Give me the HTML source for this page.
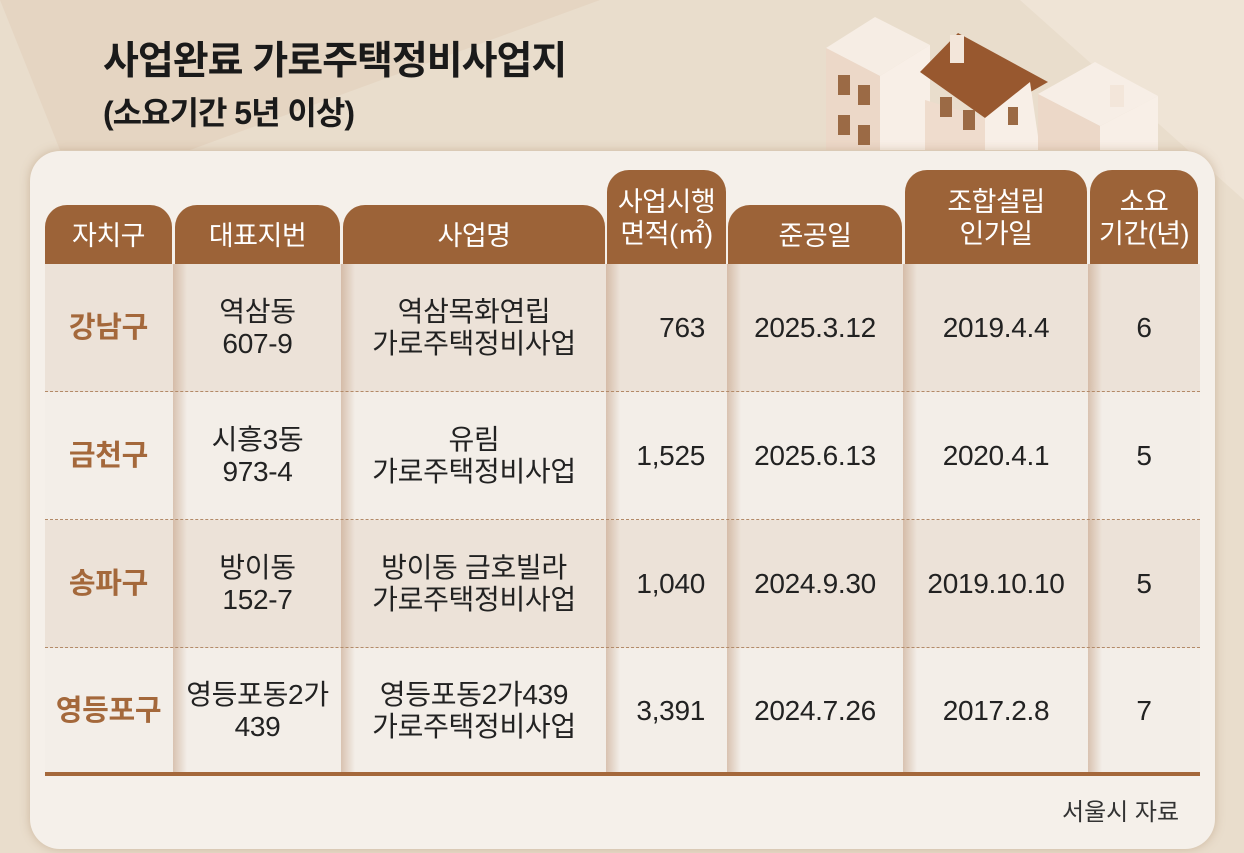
<!DOCTYPE html>
<html><head><meta charset="utf-8"><style>
*{margin:0;padding:0;box-sizing:border-box}
body{width:1244px;height:853px;overflow:hidden;background:#e6d9c7;font-family:"Liberation Sans","Noto Sans CJK KR",sans-serif;position:relative}
.bgpoly{position:absolute;left:0;top:0}
.title{position:absolute;left:103px;top:30px;font-size:39px;font-weight:bold;color:#1a1a1a;letter-spacing:-1px}
.sub{position:absolute;left:103px;top:88px;font-size:32px;font-weight:bold;color:#1a1a1a;letter-spacing:-1px}
.card{position:absolute;left:30px;top:151px;width:1185px;height:698px;background:#f5f0ea;border-radius:30px;box-shadow:0 0 10px rgba(150,110,70,.35)}
.h{position:absolute;background:#9c6338;color:#fff;border-radius:22px 22px 0 0;text-align:center;font-size:27px;line-height:32px;display:flex;align-items:center;justify-content:center;flex-direction:column;padding-top:2px;letter-spacing:-0.5px}
.c{position:absolute;display:flex;align-items:center;justify-content:center;text-align:center;font-size:28px;line-height:32px;color:#222;letter-spacing:-0.3px}
.d{color:#a4683b;font-weight:bold;font-size:29px}
.row{position:absolute;left:45px;width:1155px}
.dash{position:absolute;left:45px;width:1155px;border-top:1.5px dashed #b38a68}
.sep{position:absolute;top:264px;height:509px;width:14px;background:linear-gradient(90deg,rgba(190,150,120,.5),rgba(190,150,120,0))}
</style></head><body>
<svg class="bgpoly" width="1244" height="853">
<polygon points="0,0 1244,0 1244,853 0,853" fill="#e9ddcc"/>
<polygon points="0,0 600,0 190,150 60,150" fill="#e2d2bd" opacity=".7"/>
<polygon points="1020,0 1244,0 1244,200" fill="#efe4d6"/>
<polygon points="826,48 875,17 930,45 880,76" fill="#f6ede4"/>
<polygon points="826,48 880,76 880,150 826,150" fill="#ecd8c8"/>
<polygon points="880,76 930,45 930,150 880,150" fill="#f8efe7"/>
<polygon points="920,72 958,33 1048,82 985,118" fill="#98582f"/>
<polygon points="925,100 985,118 985,150 925,150" fill="#efdccd"/>
<polygon points="985,118 1030,82 1040,150 985,150" fill="#f8efe7"/>
<polygon points="1038,94 1095,62 1158,96 1100,126" fill="#f7eee6"/>
<polygon points="1038,94 1100,126 1100,150 1038,150" fill="#ecd8c8"/>
<polygon points="1100,126 1158,96 1158,150 1100,150" fill="#f8efe7"/>
<rect x="838" y="75" width="12" height="20" fill="#9b6a45"/><rect x="858" y="85" width="12" height="20" fill="#9b6a45"/>
<rect x="838" y="115" width="12" height="20" fill="#9b6a45"/><rect x="858" y="125" width="12" height="20" fill="#9b6a45"/>
<rect x="940" y="97" width="12" height="20" fill="#9b6a45"/><rect x="963" y="110" width="12" height="20" fill="#9b6a45"/>
<rect x="1008" y="107" width="10" height="18" fill="#9b6a45"/>
<rect x="950" y="35" width="14" height="28" fill="#f3e6da"/><rect x="1110" y="85" width="14" height="22" fill="#f3e6da"/>
</svg>
<div class="title">사업완료 가로주택정비사업지</div>
<div class="sub">(소요기간 5년 이상)</div>
<div class="card"></div>

<div class="h" style="left:45px;top:205px;width:127px;height:59px">자치구</div>
<div class="h" style="left:175px;top:205px;width:165px;height:59px">대표지번</div>
<div class="h" style="left:343px;top:205px;width:262px;height:59px">사업명</div>
<div class="h" style="left:607px;top:170px;width:119px;height:94px">사업시행<br>면적(㎡)</div>
<div class="h" style="left:728px;top:205px;width:174px;height:59px">준공일</div>
<div class="h" style="left:905px;top:170px;width:182px;height:94px">조합설립<br>인가일</div>
<div class="h" style="left:1090px;top:170px;width:108px;height:94px">소요<br>기간(년)</div>

<div class="row" style="top:264px;height:128px;background:#ece2d8"></div>
<div class="row" style="top:392px;height:128px;background:#f3eee8"></div>
<div class="row" style="top:520px;height:128px;background:#ece2d8"></div>
<div class="row" style="top:648px;height:125px;background:#f3eee8"></div>
<div class="sep" style="left:173px"></div><div class="sep" style="left:341px"></div><div class="sep" style="left:606px"></div><div class="sep" style="left:727px"></div><div class="sep" style="left:903px"></div><div class="sep" style="left:1088px"></div>
<div class="dash" style="top:391px"></div><div class="dash" style="top:519px"></div><div class="dash" style="top:647px"></div>
<div style="position:absolute;left:45px;top:772px;width:1155px;height:4px;background:#a4683b"></div>

<div class="c d" style="left:45px;top:264px;width:127px;height:128px">강남구</div>
<div class="c" style="left:175px;top:264px;width:165px;height:128px">역삼동<br>607-9</div>
<div class="c" style="left:343px;top:264px;width:262px;height:128px">역삼목화연립<br>가로주택정비사업</div>
<div class="c" style="left:607px;top:264px;width:98px;height:128px;justify-content:flex-end">763</div>
<div class="c" style="left:728px;top:264px;width:174px;height:128px">2025.3.12</div>
<div class="c" style="left:905px;top:264px;width:182px;height:128px">2019.4.4</div>
<div class="c" style="left:1090px;top:264px;width:108px;height:128px">6</div>

<div class="c d" style="left:45px;top:392px;width:127px;height:128px">금천구</div>
<div class="c" style="left:175px;top:392px;width:165px;height:128px">시흥3동<br>973-4</div>
<div class="c" style="left:343px;top:392px;width:262px;height:128px">유림<br>가로주택정비사업</div>
<div class="c" style="left:607px;top:392px;width:98px;height:128px;justify-content:flex-end">1,525</div>
<div class="c" style="left:728px;top:392px;width:174px;height:128px">2025.6.13</div>
<div class="c" style="left:905px;top:392px;width:182px;height:128px">2020.4.1</div>
<div class="c" style="left:1090px;top:392px;width:108px;height:128px">5</div>

<div class="c d" style="left:45px;top:520px;width:127px;height:128px">송파구</div>
<div class="c" style="left:175px;top:520px;width:165px;height:128px">방이동<br>152-7</div>
<div class="c" style="left:343px;top:520px;width:262px;height:128px">방이동 금호빌라<br>가로주택정비사업</div>
<div class="c" style="left:607px;top:520px;width:98px;height:128px;justify-content:flex-end">1,040</div>
<div class="c" style="left:728px;top:520px;width:174px;height:128px">2024.9.30</div>
<div class="c" style="left:905px;top:520px;width:182px;height:128px">2019.10.10</div>
<div class="c" style="left:1090px;top:520px;width:108px;height:128px">5</div>

<div class="c d" style="left:45px;top:648px;width:127px;height:125px">영등포구</div>
<div class="c" style="left:175px;top:648px;width:165px;height:125px">영등포동2가<br>439</div>
<div class="c" style="left:343px;top:648px;width:262px;height:125px">영등포동2가439<br>가로주택정비사업</div>
<div class="c" style="left:607px;top:648px;width:98px;height:125px;justify-content:flex-end">3,391</div>
<div class="c" style="left:728px;top:648px;width:174px;height:125px">2024.7.26</div>
<div class="c" style="left:905px;top:648px;width:182px;height:125px">2017.2.8</div>
<div class="c" style="left:1090px;top:648px;width:108px;height:125px">7</div>

<div style="position:absolute;left:1062px;top:792px;font-size:24px;color:#333">서울시 자료</div>
</body></html>
